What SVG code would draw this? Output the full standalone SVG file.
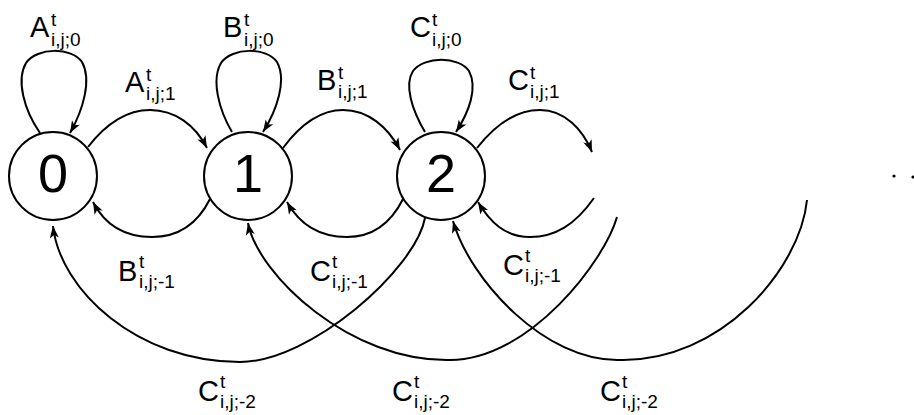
<svg xmlns="http://www.w3.org/2000/svg" width="914" height="415" viewBox="0 0 914 415">
<style>
.node circle{fill:#fff;stroke:#000;stroke-width:2}
.num{font-family:"Liberation Sans",Arial,sans-serif;font-size:54px;text-anchor:middle;fill:#000}
.edge{fill:none;stroke:#000;stroke-width:2;marker-end:url(#ah)}
.m{font-family:"Liberation Sans",Arial,sans-serif;font-size:29px;fill:#000}
.s{font-family:"Liberation Sans",Arial,sans-serif;font-size:19px;fill:#000}
</style>
<defs>
<marker id="ah" markerUnits="userSpaceOnUse" markerWidth="16" markerHeight="12" viewBox="-13 -6 14 12" refX="0" refY="0" orient="auto">
<path d="M0,0 L-12,-4.5 L-9,0 L-12,4.5 Z" fill="#000"/>
</marker>
</defs>
<rect width="914" height="415" fill="#fff"/>
<g id="connectors">
<path class="edge" d="M40,133 C24,110 16,80 26,63 C37,47 72,47 82,62 C92,80 83,110 70,133"/>
<path class="edge" d="M232,132 C219,110 211,80 221,63 C232,47 267,47 277,62 C287,80 277,110 263,132"/>
<path class="edge" d="M425,132 C412,110 404,85 413,71 C424,56 459,56 469,71 C478,88 469,112 456,132"/>
<path class="edge" d="M88,147 C105,125 125,110 150,110 C175,110 195,125 207,148"/>
<path class="edge" d="M283,148 C300,125 320,110 343,110 C368,110 388,127 400,150"/>
<path class="edge" d="M477,148 C495,125 515,110 540,110 C565,110 583,130 592,152"/>
<path class="edge" d="M210,199 C197,225 177,237 152,237 C125,237 105,225 93,202"/>
<path class="edge" d="M403,199 C390,225 370,237 347,237 C320,237 300,225 287,202"/>
<path class="edge" d="M594,198 C575,225 555,237 530,237 C505,237 490,222 478,202"/>
<path class="edge" d="M425,218 C415,270 310,362 240,362 C137,362 60,290 53,226"/>
<path class="edge" d="M617,217 C605,260 530,360 450,360 C350,362 258,275 248,223"/>
<path class="edge" d="M807,200 C800,270 720,362 620,360 C545,362 470,280 453,221"/>
</g>
<g id="node0" class="node"><circle cx="53" cy="176" r="44"/><text class="num" x="53" y="192">0</text></g>
<g id="node1" class="node"><circle cx="248" cy="176" r="44"/><text class="num" x="248" y="192">1</text></g>
<g id="node2" class="node"><circle cx="441" cy="176" r="44"/><text class="num" x="441" y="192">2</text></g>
<g id="ellipsis"><circle cx="894" cy="176" r="1.6" fill="#000"/><circle cx="913" cy="177" r="1.6" fill="#000"/></g>
<g id="labels">
<text class="m" x="30" y="37">A</text><text class="s" x="51" y="26">t</text><text class="s" x="51" y="46">i,j;0</text>
<text class="m" x="223" y="37">B</text><text class="s" x="244" y="26">t</text><text class="s" x="244" y="46">i,j;0</text>
<text class="m" x="410" y="37">C</text><text class="s" x="432" y="26">t</text><text class="s" x="432" y="46">i,j;0</text>
<text class="m" x="125" y="92">A</text><text class="s" x="146" y="81">t</text><text class="s" x="146" y="100">i,j;1</text>
<text class="m" x="317" y="90">B</text><text class="s" x="338" y="79">t</text><text class="s" x="338" y="98">i,j;1</text>
<text class="m" x="508" y="90">C</text><text class="s" x="530" y="79">t</text><text class="s" x="530" y="98">i,j;1</text>
<text class="m" x="118" y="281">B</text><text class="s" x="139" y="268">t</text><text class="s" x="139" y="288">i,j;-1</text>
<text class="m" x="310" y="281">C</text><text class="s" x="332" y="268">t</text><text class="s" x="332" y="288">i,j;-1</text>
<text class="m" x="503" y="275">C</text><text class="s" x="525" y="262">t</text><text class="s" x="525" y="282">i,j;-1</text>
<text class="m" x="198" y="401">C</text><text class="s" x="220" y="388">t</text><text class="s" x="220" y="408">i,j;-2</text>
<text class="m" x="392" y="401">C</text><text class="s" x="414" y="388">t</text><text class="s" x="414" y="408">i,j;-2</text>
<text class="m" x="600" y="401">C</text><text class="s" x="622" y="388">t</text><text class="s" x="622" y="408">i,j;-2</text>
</g>
</svg>
